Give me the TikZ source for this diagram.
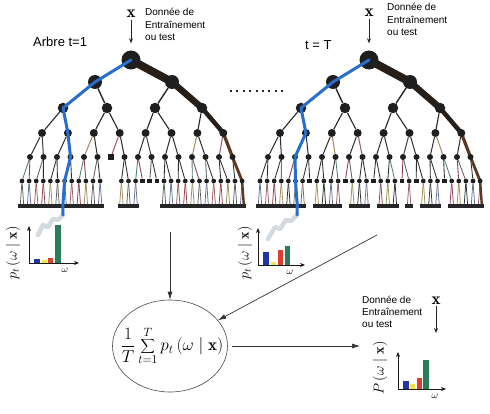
\documentclass[tikz,border=0pt]{standalone}
\usepackage{fontspec}
\newfontfamily\labfont{Liberation Sans}
\usetikzlibrary{arrows.meta,shapes.geometric}
\pgfdeclarelayer{bg}
\pgfdeclarelayer{edges}
\pgfdeclarelayer{front}
\pgfsetlayers{bg,edges,main,front}
\definecolor{bluepath}{RGB}{40,110,205}
\definecolor{darkpath}{RGB}{38,30,25}
\definecolor{brownpath}{RGB}{92,58,34}
\definecolor{tc0}{RGB}{45,45,45}
\definecolor{tc1}{RGB}{95,95,95}
\definecolor{tc2}{RGB}{140,62,82}
\definecolor{tc3}{RGB}{82,128,102}
\definecolor{tc4}{RGB}{100,112,145}
\definecolor{tc5}{RGB}{160,140,90}
\definecolor{tc6}{RGB}{65,65,65}
\definecolor{tc7}{RGB}{150,92,98}
\definecolor{hblue}{RGB}{30,55,165}
\definecolor{hyellow}{RGB}{240,228,70}
\definecolor{hred}{RGB}{222,62,50}
\definecolor{hgreen}{RGB}{42,125,88}
\definecolor{trailc}{RGB}{212,218,224}
\tikzset{
  tn/.style={circle, fill=black!88, inner sep=0pt},
  n0/.style={tn, minimum size=19pt},
  n1/.style={tn, minimum size=14pt},
  n2/.style={tn, minimum size=10.5pt},
  n3/.style={tn, minimum size=8pt},
  n4/.style={tn, minimum size=6pt},
  n5/.style={tn, minimum size=4.8pt},
  sq4/.style={rectangle, fill=black!88, inner sep=0pt, minimum size=6pt},
  sq5/.style={rectangle, fill=black!88, inner sep=0pt, minimum size=4.8pt},
  e01/.style={draw=black!85, line width=1.4pt},
  e23/.style={draw=black!85, line width=1.1pt},
  e34/.style={line width=1pt},
  e45/.style={line width=0.85pt},
  e56/.style={line width=0.75pt},
  leafbar/.style={draw=black!85, line width=4.5pt},
  dk/.style={draw=darkpath, line cap=round},
  br/.style={draw=brownpath, line cap=round},
  bluep/.style={draw=bluepath, line width=3pt, line join=round, line cap=round},
  trail/.style={draw=trailc, line width=4.5pt, line join=round, line cap=round},
  lbl/.style={font=\labfont\fontsize{10}{12.5}\selectfont, align=left, inner sep=0pt, anchor=north west},
  ttl/.style={font=\labfont\fontsize{13}{15}\selectfont, inner sep=0pt, anchor=base west},
  xmark/.style={font=\fontsize{17}{17}\selectfont, inner sep=1pt},
  darr/.style={draw=black!85, line width=0.9pt, -{Stealth[length=5pt,width=4pt]}},
  histaxis/.style={draw=black!90, line width=0.9pt, -{Stealth[length=5pt,width=4pt]}},
  omg/.style={font=\fontsize{10}{12}\selectfont, inner sep=0pt},
  ylab/.style={font=\fontsize{14}{16}\selectfont, rotate=90, inner sep=0pt},
  arr/.style={draw=black!80, line width=0.7pt, -{Latex[length=8pt,width=5pt]}},
  dotrow/.style={draw=black!85, line width=2pt, dash pattern=on 2pt off 4.4pt},
}
\newcommand\prune[3]{\expandafter\def\csname prune-#1-#2-#3\endcsname{}}
\prune{A}{4}{6}
\prune{A}{5}{17}\prune{A}{5}{18}\prune{A}{5}{19}
\prune{B}{5}{7}\prune{B}{5}{12}\prune{B}{5}{16}\prune{B}{5}{20}\prune{B}{5}{22}\prune{B}{5}{26}

\newcommand\buildtree[3]{%
\begin{scope}[xshift=#2]
  \node[n0] (#1-0-0) at (131,60) {};
  \node[n1] (#1-1-0) at (95,82) {};
  \node[n1] (#1-1-1) at (172,82) {};
  \foreach \i/\x in {0/63,1/107,2/155,3/202}
    \node[n2] (#1-2-\i) at (\x,108) {};
  \foreach \i in {0,...,7}
    \node[n3] (#1-3-\i) at ({42+25.9*\i},133) {};
  \foreach \i in {0,...,15}{%
    \ifcsname prune-#1-4-\i\endcsname
      \node[sq4] (#1-4-\i) at ({30+13.5*\i},157) {};
    \else
      \node[n4] (#1-4-\i) at ({30+13.5*\i},157) {};
    \fi}
  \foreach \k in {0,...,31}{%
    \pgfmathtruncatemacro\p{floor(\k/2)}%
    \pgfmathsetmacro\xf{22+7.1*\k}%
    \pgfmathtruncatemacro\la{2*\k}%
    \pgfmathtruncatemacro\lb{2*\k+1}%
    \ifcsname prune-#1-4-\p\endcsname\else
      \ifcsname prune-#1-5-\k\endcsname
        \node[sq5] (#1-5-\k) at (\xf,181) {};
      \else
        \node[n5] (#1-5-\k) at (\xf,181) {};
        \coordinate (#1-6-\la) at ({\xf-1.8},206);
        \coordinate (#1-6-\lb) at ({\xf+1.8},206);
        \draw[leafbar] ([xshift=-1.9pt]#1-6-\la) -- ([xshift=1.9pt]#1-6-\lb);
      \fi
    \fi}
  \begin{pgfonlayer}{edges}
    \draw[e01] (#1-0-0) -- (#1-1-0) (#1-0-0) -- (#1-1-1);
    \foreach \i in {0,...,3}{\pgfmathtruncatemacro\p{floor(\i/2)}\draw[e01] (#1-1-\p) -- (#1-2-\i);}
    \foreach \i in {0,...,7}{\pgfmathtruncatemacro\p{floor(\i/2)}\draw[e23] (#1-2-\p) -- (#1-3-\i);}
    \foreach \i in {0,...,15}{%
      \pgfmathtruncatemacro\p{floor(\i/2)}%
      \pgfmathtruncatemacro\c{mod(\i*5+#3,8)}%
      \ifnum\c<5 \def\cc{tc0}\else\def\cc{tc\c}\fi
      \draw[e34, color=\cc] (#1-3-\p) -- (#1-4-\i);}
    \foreach \k in {0,...,31}{%
      \pgfmathtruncatemacro\p{floor(\k/2)}%
      \pgfmathtruncatemacro\la{2*\k}%
      \pgfmathtruncatemacro\lb{2*\k+1}%
      \pgfmathtruncatemacro\c{mod(\k*3+#3+floor(\k/5),8)}%
      \pgfmathtruncatemacro\d{mod(\k*7+#3+2,8)}%
      \ifnum\d>3 \def\dd{tc0}\else\def\dd{tc\d}\fi
      \ifcsname prune-#1-4-\p\endcsname\else
        \draw[e45, color=\dd] (#1-4-\p) -- (#1-5-\k);
        \ifcsname prune-#1-5-\k\endcsname\else
          \draw[e56, color=tc\c] (#1-5-\k) -- (#1-6-\la);
          \draw[e56, color=tc\c] (#1-5-\k) -- (#1-6-\lb);
        \fi
      \fi}
    \draw[dk, line width=8pt] (#1-0-0.center) -- (#1-1-1.center);
    \draw[dk, line width=6.5pt] (#1-1-1.center) -- (#1-2-3.center);
    \draw[dk, line width=4.5pt] (#1-2-3.center) -- (#1-3-7.center);
    \draw[br, line width=3.2pt] (#1-3-7.center) -- (#1-4-15.center);
    \draw[br, line width=2.8pt] (#1-4-15.center) -- (#1-5-31.center);
    \draw[br, line width=2.4pt] (#1-5-31.center) -- (#1-6-63);
  \end{pgfonlayer}
\end{scope}}

\begin{document}
\begin{tikzpicture}[x=1pt,y=-1pt]
\useasboundingbox (0,0) rectangle (490,414);
\begin{pgfonlayer}{bg}
\fill[white] (0,0) rectangle (490,414);
\end{pgfonlayer}

\buildtree{A}{0pt}{1}
\buildtree{B}{238pt}{4}

% blue decision paths and trails
\coordinate (A-tail) at (63,215);
\coordinate (B-tail) at (297,215);
\draw[trail] (A-tail) -- ++(-5,5) -- ++(-5,-1) -- ++(-5,8) -- ++(-5,-2) -- ++(-5,10);
\draw[trail] (B-tail) -- ++(-6,6) -- ++(-5,-1) -- ++(-6,9) -- ++(-5,-2) -- ++(-7,12);
\begin{pgfonlayer}{front}
\draw[bluep] (A-0-0.center) -- (A-1-0.center) -- (A-2-0.center) -- (A-3-1.center)
  -- (A-4-3.center) -- (A-5-6.center) -- (A-6-12) -- (A-tail);
\draw[bluep] (B-0-0.center) -- (B-1-0.center) -- (B-2-0.center) -- (B-3-1.center)
  -- (B-4-2.center) -- (B-5-5.center) -- (B-6-11) -- (B-tail);
\end{pgfonlayer}

% top labels
\node[xmark] (xA) at (131,14) {$\mathbf{x}$};
\draw[darr, shorten <=1pt, shorten >=7pt] (xA) -- (A-0-0);
\node[lbl] (tA) at (145,8) {Donnée de\\Entraînement\\ou test};
\node[ttl] (arbA) at (33,47) {Arbre t=1};
\node[xmark] (xB) at (369,13) {$\mathbf{x}$};
\draw[darr, shorten <=1pt, shorten >=7pt] (xB) -- (B-0-0);
\node[lbl] (tB) at (387,3) {Donnée de\\Entraînement\\ou test};
\node[ttl] (arbB) at (305,50) {t = T};
\coordinate (dotL) at (230,91);
\coordinate (dotR) at (287,91);
\draw[dotrow] (dotL) -- (dotR);

% histogram 1
\fill[hblue] (34,263) rectangle (40,259);
\fill[hyellow] (42,263) rectangle (47,260);
\fill[hred] (48,263) rectangle (53,258);
\fill[hgreen] (55,263) rectangle (61,225);
\coordinate (h1o) at (29,263);
\coordinate (h1y) at (29,226);
\coordinate (h1x) at (79,263);
\draw[histaxis] (h1o) -- (h1y);
\draw[histaxis] (h1o) -- (h1x);
\node[omg] (w1) at (65,270) {$\omega$};
\node[ylab] (yl1) at (13,253) {$p_t\left(\omega \mid \mathbf{x}\right)$};

% histogram 2
\fill[hblue] (263,265) rectangle (269,252);
\fill[hyellow] (271,265) rectangle (276,262);
\fill[hred] (278,265) rectangle (283,250);
\fill[hgreen] (285,265) rectangle (290,246);
\coordinate (h2o) at (258,265);
\coordinate (h2y) at (258,228);
\coordinate (h2x) at (305,265);
\draw[histaxis] (h2o) -- (h2y);
\draw[histaxis] (h2o) -- (h2x);
\node[omg] (w2) at (290,272) {$\omega$};
\node[ylab] (yl2) at (245,253) {$p_t\left(\omega \mid \mathbf{x}\right)$};

% histogram 3
\fill[hblue] (403,389) rectangle (409,381);
\fill[hyellow] (410,389) rectangle (415,384);
\fill[hred] (417,389) rectangle (422,378);
\fill[hgreen] (423,389) rectangle (429,360);
\coordinate (h3o) at (398,389);
\coordinate (h3y) at (398,352);
\coordinate (h3x) at (446,389);
\draw[histaxis] (h3o) -- (h3y);
\draw[histaxis] (h3o) -- (h3x);
\node[omg] (w3) at (435,396) {$\omega$};
\node[ylab] (yl3) at (380,368) {$P\left(\omega \mid \mathbf{x}\right)$};

% ensemble
\node[draw=black!70, line width=0.6pt, ellipse, minimum width=115pt, minimum height=92pt, inner sep=0pt] (ens) at (170,346) {};
\node[font=\fontsize{17}{20}\selectfont, inner sep=0pt] (enstext) at (172,346)
  {$\displaystyle \frac{1}{T}\sum_{t=1}^{T} p_t\left(\omega \mid \mathbf{x}\right)$};
\coordinate (a1s) at (170,232);
\draw[arr] (a1s) -- (ens);
\coordinate (a2s) at (377,235);
\draw[arr] (a2s) -- (ens);
\coordinate (a3e) at (360,346);
\draw[arr, shorten <=4pt] (ens) -- (a3e);

% bottom right labels
\node[lbl, font=\labfont\fontsize{10}{11.8}\selectfont] (tC) at (362,296) {Donnée de\\Entraînement\\ou test};
\node[xmark] (xC) at (436,301) {$\mathbf{x}$};
\coordinate (xCe) at (436,333);
\draw[darr] (xC) -- (xCe);
\end{tikzpicture}
\end{document}
